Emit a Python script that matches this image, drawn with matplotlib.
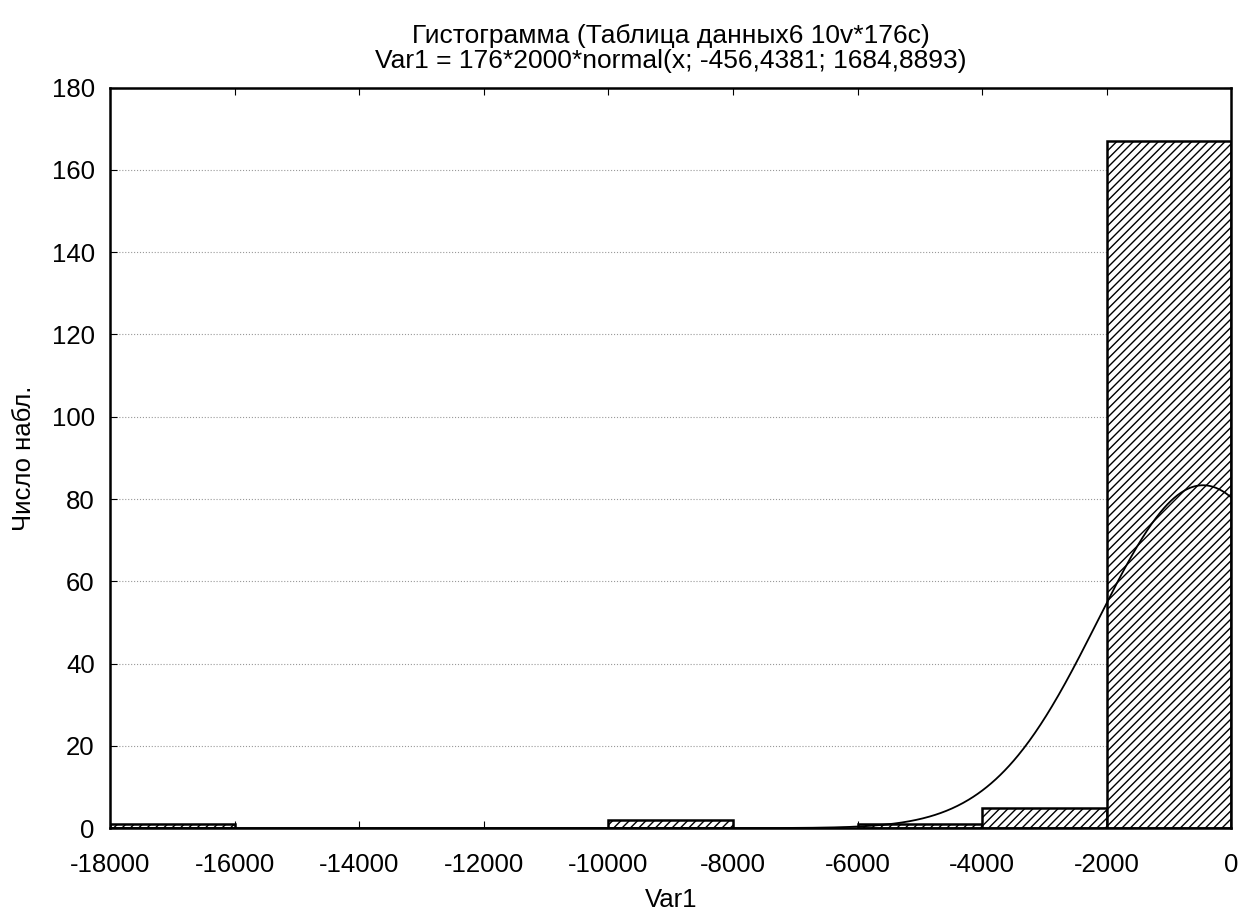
import numpy as np
import matplotlib.pyplot as plt

plt.rcParams['font.family'] = ['Liberation Sans', 'DejaVu Sans']
plt.rcParams['hatch.linewidth'] = 1.0
plt.rcParams['axes.unicode_minus'] = False

bin_edges = [-18000, -16000, -14000, -12000, -10000, -8000, -6000, -4000, -2000, 0]
counts = [1, 0, 0, 0, 2, 0, 1, 5, 167]
n_obs = 176
bin_width = 2000
mean = -456.4381
std = 1684.8893

fig = plt.figure(figsize=(12.46, 9.13), dpi=100)
ax = fig.add_axes([0.0883, 0.093, 0.9, 0.811])

lefts = bin_edges[:-1]
for left, c in zip(lefts, counts):
    if c > 0:
        ax.bar(left, c, width=bin_width, align='edge', facecolor='white',
               edgecolor='black', hatch='////', linewidth=1.8, zorder=2)

x = np.linspace(-18000, 0, 1000)
y = n_obs * bin_width * np.exp(-0.5 * ((x - mean) / std) ** 2) / (std * np.sqrt(2 * np.pi))
ax.plot(x, y, color='black', linewidth=1.3, zorder=3)

ax.set_xlim(-18000, 0)
ax.set_ylim(0, 180)
ax.set_xticks(bin_edges)
ax.set_yticks(range(0, 181, 20))
ax.yaxis.grid(True, linestyle=':', color='#999999', linewidth=0.8, zorder=0)
ax.tick_params(direction='in', top=True, right=True, labelsize=18.5, length=5)
ax.tick_params(axis='x', pad=18)
ax.tick_params(axis='y', pad=11)
for s in ax.spines.values():
    s.set_linewidth(1.8)

ax.set_xlabel('Var1', fontsize=18.5, labelpad=8)
ax.set_ylabel('Число набл.', fontsize=18.5, labelpad=11)
ax.set_title('Гистограмма (Таблица данных6 10v*176c)\n'
             'Var1 = 176*2000*normal(x; -456,4381; 1684,8893)',
             fontsize=19, linespacing=1.05, pad=14)

fig.savefig('out.png', dpi=100)
